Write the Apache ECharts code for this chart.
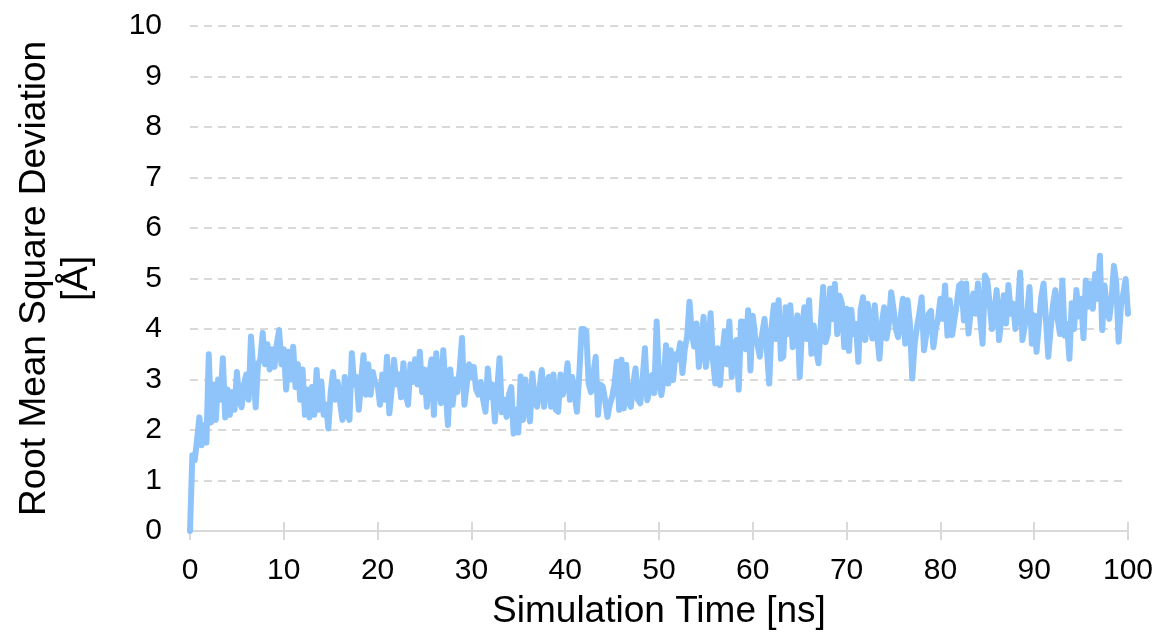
<!DOCTYPE html>
<html>
<head>
<meta charset="utf-8">
<title>RMSD</title>
<script src="https://cdn.jsdelivr.net/npm/echarts@6/dist/echarts.min.js"></script>
<style>
  html, body { margin: 0; padding: 0; background: #ffffff; }
  #chart { width: 1158px; height: 636px; }
</style>
</head>
<body>
<div id="chart"></div>
<script>
// Sampling interval of the trajectory, in ns
const timeStep = 0.25;

// RMSD values [Å], one row per nanosecond (4 samples each)
const rmsd = [
  0, 1.5, 1.4, 1.8,
  2.25, 1.7, 2.1, 1.75,
  3.5, 2.15, 2.9, 2.2,
  3.0, 2.6, 3.42, 2.25,
  2.8, 2.3, 2.75, 2.4,
  3.15, 2.6, 2.45, 2.9,
  3.1, 2.6, 3.85, 3.2,
  2.45, 3.3, 3.4, 3.92,
  3.3, 3.7, 3.2, 3.6,
  3.25, 3.7, 3.98, 3.3,
  3.6, 2.8, 3.55, 3.0,
  3.65, 2.85, 3.3, 2.6,
  3.2, 2.3, 2.8, 2.25,
  2.85, 2.3, 3.19, 2.4,
  2.96, 2.3, 2.5, 2.03,
  2.75, 3.15, 2.6, 2.95,
  2.55, 2.2, 3.05, 2.3,
  2.2, 3.52, 2.9, 3.05,
  2.4, 3.0, 3.48, 2.7,
  3.3, 2.7, 3.15, 2.9,
  2.9, 2.5, 3.1, 2.6,
  3.45, 2.33, 2.8, 3.39,
  2.9, 3.1, 2.65, 3.32,
  2.7, 2.5, 3.3, 2.95,
  3.4, 2.9, 3.55, 2.75,
  3.2, 2.46, 3.1, 3.4,
  2.3, 3.52, 2.9, 2.53,
  3.58, 2.8, 2.1, 3.2,
  2.5, 3.0, 2.75, 3.2,
  3.82, 2.5, 2.9, 3.3,
  3.05, 3.25, 2.8, 2.7,
  2.95, 2.6, 2.36, 3.22,
  2.65, 2.9, 2.17, 2.8,
  3.42, 2.35, 2.6, 2.26,
  2.7, 2.85, 1.93, 2.4,
  1.95, 3.06, 2.2, 3.0,
  2.45, 2.17, 3.12, 2.6,
  2.46, 2.8, 3.19, 2.46,
  2.9, 3.05, 2.46, 3.1,
  2.4, 2.36, 3.1, 2.7,
  2.9, 3.32, 2.6, 3.05,
  2.7, 2.36, 3.1, 4.0,
  4.0, 3.95, 2.92, 2.75,
  3.1, 3.45, 2.3, 2.9,
  2.86, 2.6, 2.26, 2.5,
  2.65, 2.9, 3.35, 2.4,
  3.39, 2.43, 3.29, 2.55,
  2.46, 2.9, 3.22, 2.6,
  2.53, 3.0, 3.62, 2.59,
  2.8, 3.09, 2.73, 4.15,
  3.0, 2.69, 3.0, 3.68,
  2.92, 3.58, 2.99, 3.5,
  3.4, 3.72, 3.13, 3.6,
  3.85, 4.54, 3.9, 3.65,
  4.11, 3.25, 3.6, 4.24,
  3.25, 3.6, 4.31, 3.4,
  2.92, 3.62, 2.89, 3.5,
  3.95, 3.3, 4.15, 3.05,
  3.65, 3.78, 2.8, 4.15,
  4.14, 3.6, 4.37, 3.18,
  4.26, 3.84, 3.7, 3.45,
  3.9, 4.2, 3.6, 2.92,
  4.04, 4.47, 3.8, 4.57,
  3.41, 3.45, 4.43, 3.9,
  4.47, 3.64, 3.9, 4.27,
  3.05, 4.0, 4.43, 3.8,
  4.57, 3.51, 4.07, 3.6,
  3.32, 4.1, 4.83, 3.74,
  3.9, 4.8, 4.2, 4.89,
  3.9, 4.66, 4.5, 3.64,
  4.4, 3.57, 4.38, 3.9,
  4.1, 3.35, 4.38, 4.63,
  3.78, 4.5, 4.1, 3.81,
  4.47, 3.9, 3.41, 4.1,
  4.43, 3.81, 4.1, 4.73,
  4.4, 4.0, 3.84, 4.2,
  4.6, 3.71, 4.57, 4.1,
  3.02, 3.7, 4.04, 4.3,
  4.63, 3.58, 3.9, 4.3,
  4.36, 3.64, 4.0, 4.2,
  4.6, 4.2, 4.86, 3.87,
  4.57, 3.88, 4.2, 4.5,
  4.86, 4.9, 4.17, 4.9,
  3.91, 4.4, 4.7, 4.3,
  4.9, 4.2, 3.71, 5.06,
  4.96, 4.5, 4.0, 4.3,
  4.77, 3.78, 4.2, 4.67,
  4.11, 4.87, 4.3, 4.5,
  4.0, 4.4, 5.12, 3.78,
  4.07, 4.3, 4.83, 3.71,
  4.27, 3.55, 4.1, 4.63,
  4.9, 4.2, 3.45, 4.0,
  4.47, 4.77, 4.2, 3.9,
  4.96, 3.87, 4.1, 3.41,
  4.51, 4.0, 4.77, 4.25,
  4.6, 3.82, 4.96, 4.44,
  4.9, 4.4, 5.09, 4.6,
  5.45, 3.98, 4.86, 4.4,
  4.2, 4.6, 5.25, 4.9,
  3.75, 4.47, 4.7, 4.99,
  4.3
];

// Axis tick values
const xTicks = [0, 10, 20, 30, 40, 50, 60, 70, 80, 90, 100];
const yTicks = [0, 1, 2, 3, 4, 5, 6, 7, 8, 9, 10];

const FONT = "'Liberation Sans', Arial, Helvetica, sans-serif";
const GREY = '#d9d9d9';

const points = rmsd.map((v, i) => [i * timeStep, v]);

const chart = echarts.init(document.getElementById('chart'), null, { renderer: 'canvas' });

const xCommon = {
  type: 'value',
  min: xTicks[0],
  max: xTicks[xTicks.length - 1],
  interval: xTicks[1] - xTicks[0],
  splitLine: { show: false },
  position: 'bottom'
};

chart.setOption({
  animation: false,
  backgroundColor: '#ffffff',
  grid: { left: 190, right: 30, top: 26, bottom: 105, containLabel: false },
  xAxis: [
    Object.assign({}, xCommon, {
      name: 'Simulation Time [ns]',
      nameLocation: 'middle',
      nameGap: 62,
      nameTextStyle: { fontFamily: FONT, fontSize: 37, color: '#000000' },
      axisLine: { show: true, lineStyle: { color: GREY, width: 2 } },
      axisTick: { show: true, inside: false, length: 9, lineStyle: { color: GREY, width: 2 } },
      axisLabel: { fontFamily: FONT, fontSize: 30, color: '#000000', margin: 25 }
    }),
    // upper half of the crossing tick marks
    Object.assign({}, xCommon, {
      axisLine: { show: false },
      axisTick: { show: true, inside: true, length: 9, lineStyle: { color: GREY, width: 2 } },
      axisLabel: { show: false }
    })
  ],
  yAxis: {
    type: 'value',
    min: yTicks[0],
    max: yTicks[yTicks.length - 1],
    interval: yTicks[1] - yTicks[0],
    name: 'Root Mean Square Deviation\n[Å]',
    nameLocation: 'middle',
    nameGap: 92,
    nameRotate: 90,
    nameTextStyle: { fontFamily: FONT, fontSize: 37, lineHeight: 42, color: '#000000', align: 'center' },
    axisLine: { show: false },
    axisTick: { show: false },
    axisLabel: { fontFamily: FONT, fontSize: 30, color: '#000000', margin: 28 },
    splitLine: { show: true, lineStyle: { color: GREY, width: 2, type: [8, 6] } }
  },
  series: [{
    type: 'line',
    data: points,
    xAxisIndex: 0,
    showSymbol: false,
    symbol: 'none',
    clip: false,
    lineStyle: { color: '#8fc4fa', width: 6, join: 'round', cap: 'round' }
  }]
});
</script>
</body>
</html>
